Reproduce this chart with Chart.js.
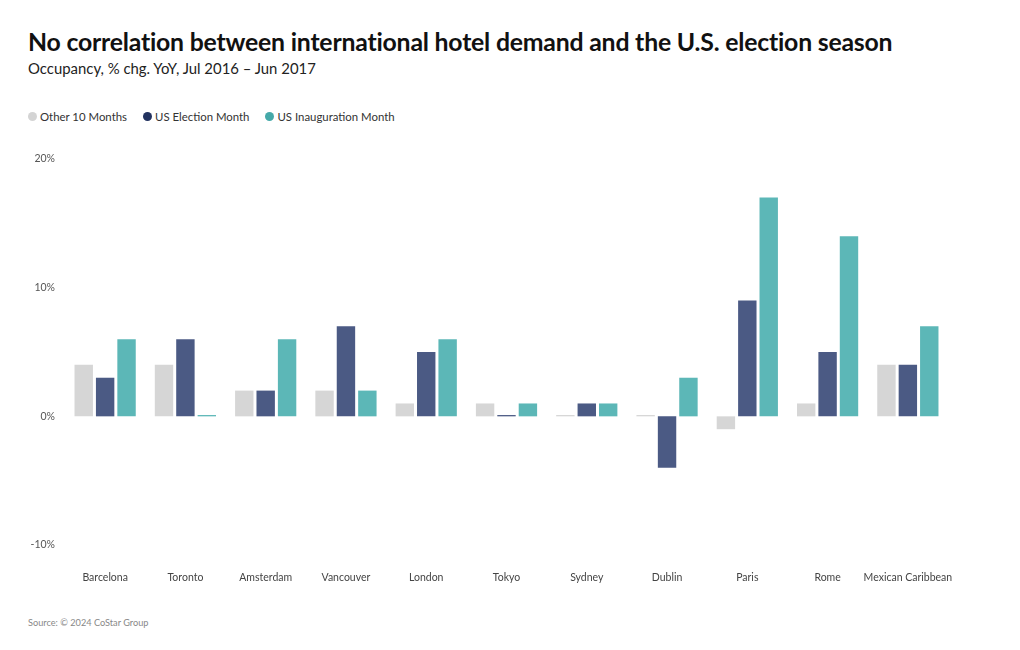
<!DOCTYPE html>
<html>
<head>
<meta charset="utf-8">
<script src="https://cdn.jsdelivr.net/npm/chart.js@4"></script>
<style>
  body { margin: 0; background: #fff; font-family: Lato, sans-serif; }
  .wrap { position: relative; width: 1020px; height: 650px; }
  h1 { position: absolute; left: 28px; top: 27px; margin: 0; font-size: 24.8px; font-weight: 700; color: #111; letter-spacing: -0.2px; }
  .sub { position: absolute; left: 28px; top: 59px; font-size: 14.9px; color: #222; }
  .legend { position: absolute; left: 28px; top: 110px; font-size: 11.4px; color: #333; display: flex; }
  .legend span { display: flex; align-items: center; margin-right: 16px; }
  .legend i { width: 9px; height: 9px; border-radius: 50%; margin-right: 3px; display: inline-block; }
  .src { position: absolute; left: 28px; top: 617px; font-size: 9.2px; color: #888; }
  .chartbox { position: absolute; left: 0; top: 141px; width: 1020px; height: 459px; }
</style>
</head>
<body>
<div class="wrap">
  <h1>No correlation between international hotel demand and the U.S. election season</h1>
  <div class="sub">Occupancy, % chg. YoY, Jul 2016 – Jun 2017</div>
  <div class="legend">
    <span><i style="background:#d4d4d4"></i>Other 10 Months</span>
    <span><i style="background:#22325f"></i>US Election Month</span>
    <span><i style="background:#45a9a9"></i>US Inauguration Month</span>
  </div>
  <div class="chartbox"><canvas id="chart"></canvas></div>
  <div class="src">Source: © 2024 CoStar Group</div>
</div>
<script>
const cities = ["Barcelona", "Toronto", "Amsterdam", "Vancouver", "London", "Tokyo", "Sydney", "Dublin", "Paris", "Rome", "Mexican Caribbean"];
const otherMonths = [4, 4, 2, 2, 1, 1, 0.1, 0.1, -1, 1, 4];
const electionMonth = [3, 6, 2, 7, 5, 0.1, 1, -4, 9, 5, 4];
const inaugurationMonth = [6, 0.1, 6, 2, 6, 1, 1, 3, 17, 14, 7];
const yTicks = [-10, 0, 10, 20];

const tickFont = { family: "Lato", size: 10.5 };

new Chart(document.getElementById("chart"), {
  type: "bar",
  data: {
    labels: cities,
    datasets: [
      { label: "Other 10 Months", data: otherMonths, backgroundColor: "#d6d6d6" },
      { label: "US Election Month", data: electionMonth, backgroundColor: "#4b5a84" },
      { label: "US Inauguration Month", data: inaugurationMonth, backgroundColor: "#5cb7b7" },
    ],
  },
  options: {
    responsive: true,
    maintainAspectRatio: false,
    animation: false,
    layout: { padding: { top: 18, right: 72, bottom: 0, left: 0 } },
    plugins: { legend: { display: false }, tooltip: { enabled: false } },
    datasets: { bar: { barPercentage: 0.86, categoryPercentage: 0.8 } },
    scales: {
      x: {
        grid: { display: false },
        border: { display: false },
        ticks: { color: "#444", font: tickFont, padding: 18, maxRotation: 0, autoSkip: false },
        afterFit: (scale) => { scale.height = 55; },
      },
      y: {
        min: -10,
        max: 20,
        grid: { display: false },
        border: { display: false },
        afterBuildTicks: (scale) => { scale.ticks = yTicks.map((v) => ({ value: v })); },
        ticks: { color: "#555", font: tickFont, padding: 2, callback: (v) => v + "%" },
        afterFit: (scale) => { scale.width = 65; },
      },
    },
  },
});
</script>
</body>
</html>
